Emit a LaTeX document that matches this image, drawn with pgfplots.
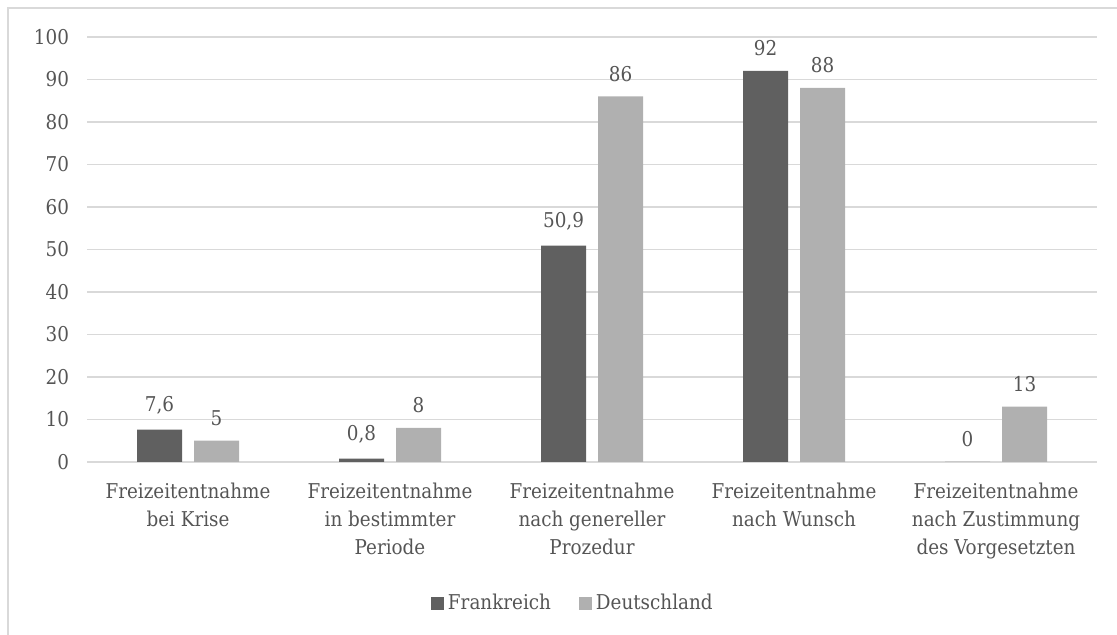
\documentclass[border=0pt]{standalone}
\usepackage{fontspec}
\setmainfont{DejaVu Serif Condensed}
\usepackage{pgfplots}
\pgfplotsset{compat=1.18}
\definecolor{txt}{HTML}{555555}
\definecolor{fr}{HTML}{606060}
\definecolor{de}{HTML}{B0B0B0}
\definecolor{grd}{HTML}{D9D9D9}
\newcommand{\cf}{\fontsize{10.2}{14}\selectfont}
\begin{document}
\begin{tikzpicture}
\useasboundingbox (0,0) rectangle (558.5pt,317.5pt);
\draw[grd, line width=0.7pt] (4pt,-5pt) -- (4pt,313.5pt) -- (565pt,313.5pt);
\begin{axis}[
  at={(43.5pt,86.5pt)}, anchor=south west,
  scale only axis, width=505pt, height=212.5pt,
  ymin=0, ymax=100, ytick={0,10,...,100},
  xmin=-0.5, xmax=4.5, xtick={0,1,2,3,4},
  xticklabels={{Freizeitentnahme\\bei Krise},{Freizeitentnahme\\in bestimmter\\Periode},{Freizeitentnahme\\nach genereller\\Prozedur},{Freizeitentnahme\\nach Wunsch},{Freizeitentnahme\\nach Zustimmung\\des Vorgesetzten}},
  xticklabel style={align=center, font=\cf, text=txt, anchor=north, yshift=-7pt},
  yticklabel style={font=\cf, text=txt, xshift=-5.5pt},
  /pgf/number format/assume math mode=true,
  /pgf/number format/use comma,
  major tick length=0pt,
  axis line style={draw=none},
  ymajorgrids, grid style={grd, line width=0.7pt},
  ybar=6pt, bar width=22.5pt,
  nodes near coords,
  nodes near coords style={font=\cf, text=txt, anchor=south, yshift=4pt},
  legend style={at={(0.482,-0.332)}, anchor=center, draw=none, font=\cf, text=txt,
    legend columns=2, /tikz/every even column/.append style={column sep=12pt}},
  legend image code/.code={\fill[#1] (0pt,-3.25pt) rectangle (6.5pt,3.25pt);},
]
\addplot[fill=fr, draw=none] coordinates {(0,7.6) (1,0.8) (2,50.9) (3,92) (4,0)};
\addplot[fill=de, draw=none] coordinates {(0,5) (1,8) (2,86) (3,88) (4,13)};
\legend{Frankreich,Deutschland}
\end{axis}
\end{tikzpicture}
\end{document}
